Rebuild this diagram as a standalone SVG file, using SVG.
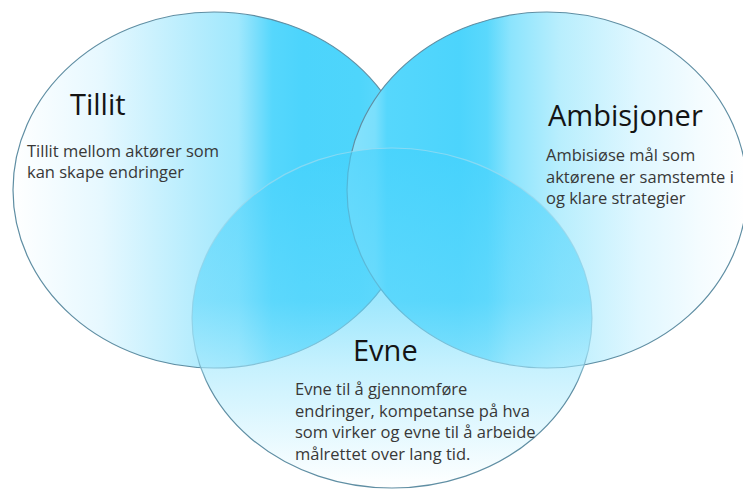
<svg xmlns="http://www.w3.org/2000/svg" width="743" height="490" viewBox="0 0 743 490">
  <defs>
    <linearGradient id="gLeft" gradientUnits="userSpaceOnUse" x1="13" y1="0" x2="415" y2="0">
      <stop offset="0" stop-color="#ffffff"/>
      <stop offset="0.22" stop-color="#e6f8ff"/>
      <stop offset="0.46" stop-color="#b4ecfd"/>
      <stop offset="0.56" stop-color="#a0e8fd"/>
      <stop offset="0.6" stop-color="#7edffc"/>
      <stop offset="0.645" stop-color="#56d7fc"/>
      <stop offset="0.72" stop-color="#4cd4fc"/>
      <stop offset="0.86" stop-color="#4ed5fb"/>
      <stop offset="1" stop-color="#6cdbfc"/>
    </linearGradient>
    <linearGradient id="gRight" gradientUnits="userSpaceOnUse" x1="347" y1="0" x2="747" y2="0">
      <stop offset="0" stop-color="#88e2fc"/>
      <stop offset="0.07" stop-color="#7adffc"/>
      <stop offset="0.1" stop-color="#56d7fc"/>
      <stop offset="0.28" stop-color="#4cd4fc"/>
      <stop offset="0.35" stop-color="#5ad8fc"/>
      <stop offset="0.41" stop-color="#8ce4fd"/>
      <stop offset="0.53" stop-color="#b8eefd"/>
      <stop offset="0.73" stop-color="#e0f7ff"/>
      <stop offset="0.88" stop-color="#f4fcff"/>
      <stop offset="1" stop-color="#ffffff"/>
    </linearGradient>
    <linearGradient id="gBottom" x1="0" y1="0" x2="0" y2="1">
      <stop offset="0" stop-color="#42d1fc"/>
      <stop offset="0.45" stop-color="#60d8fc"/>
      <stop offset="0.65" stop-color="#a2e8fd"/>
      <stop offset="1" stop-color="#ffffff"/>
    </linearGradient>
    <linearGradient id="gBottomStroke" gradientUnits="userSpaceOnUse" x1="0" y1="148" x2="0" y2="488">
      <stop offset="0" stop-color="#9fdcf0" stop-opacity="0.7"/>
      <stop offset="0.6" stop-color="#8ccbe0" stop-opacity="0.8"/>
      <stop offset="0.7" stop-color="#5f8ea3"/>
      <stop offset="1" stop-color="#5f8ea3"/>
    </linearGradient>
  </defs>
  <style>
    .shape { stroke: #5f8ea3; stroke-width: 1.2; }
    .title { font-family: "Open Sans", "Liberation Sans", sans-serif; font-size: 29px; fill: #141414; }
    .body { font-family: "Open Sans", "Liberation Sans", sans-serif; font-size: 16.5px; fill: #383838; }
  </style>
  <rect width="743" height="490" fill="#ffffff"/>
  <g id="tillit">
    <ellipse class="shape" cx="214" cy="190" rx="201" ry="178" fill="url(#gLeft)"/>
    <text class="title" x="70" y="115">Tillit</text>
    <text class="body" x="27" y="156.5">Tillit mellom aktører som</text>
    <text class="body" x="27" y="178.2">kan skape endringer</text>
  </g>
  <g id="ambisjoner">
    <ellipse class="shape" cx="547" cy="190" rx="200" ry="178" fill="url(#gRight)"/>
    <text class="title" x="548" y="126">Ambisjoner</text>
    <text class="body" x="546" y="161">Ambisiøse mål som</text>
    <text class="body" x="546" y="182.7">aktørene er samstemte i</text>
    <text class="body" x="546" y="204.4">og klare strategier</text>
  </g>
  <g id="evne">
    <ellipse cx="392" cy="318" rx="200" ry="170" fill="url(#gBottom)" fill-opacity="0.6" stroke="url(#gBottomStroke)" stroke-width="1.2"/>
    <text class="title" x="353" y="361">Evne</text>
    <text class="body" x="295" y="395">Evne til å gjennomføre</text>
    <text class="body" x="295" y="416.7">endringer, kompetanse på hva</text>
    <text class="body" x="295" y="438.4">som virker og evne til å arbeide</text>
    <text class="body" x="295" y="460">målrettet over lang tid.</text>
  </g>
</svg>
